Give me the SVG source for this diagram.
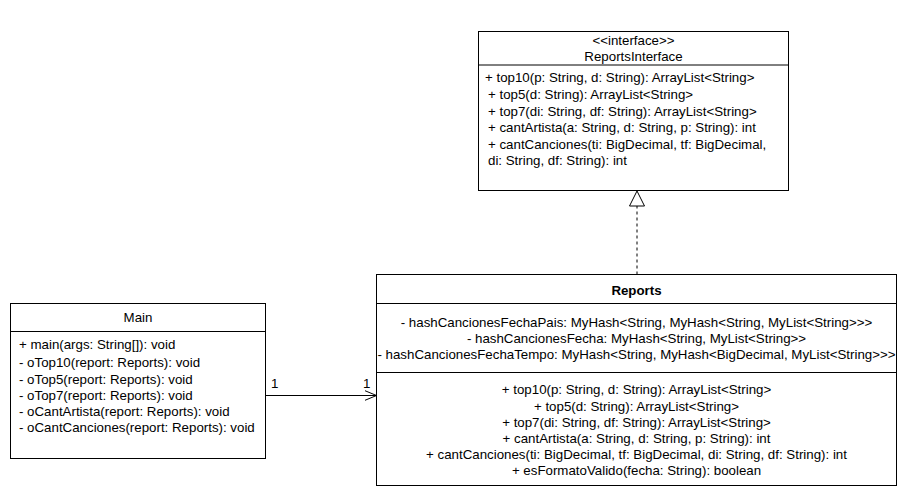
<svg xmlns="http://www.w3.org/2000/svg" width="907" height="497" viewBox="0 0 907 497">
  <defs>
    <style>
      .box { fill: #ffffff; stroke: #000000; stroke-width: 1; }
      .sep { stroke: #000000; stroke-width: 1; fill: none; }
      text { font-family: "Liberation Sans", Arial, Helvetica, sans-serif; font-size: 13.3px; fill: #000000; }
      .c { text-anchor: middle; }
      .b { font-weight: bold; }
      .edge { stroke: #000000; stroke-width: 1; fill: none; }
      .dash { stroke-dasharray: 3 3; }
    </style>
    <marker id="open" viewBox="0 0 12 12" refX="12" refY="6" markerWidth="12" markerHeight="12" markerUnits="userSpaceOnUse" orient="auto">
      <path d="M0,1 L12,6 L0,11" fill="none" stroke="#000000" stroke-width="1"/>
    </marker>
    <marker id="realize" viewBox="0 0 16 18" refX="15.5" refY="9" markerWidth="16" markerHeight="18" markerUnits="userSpaceOnUse" orient="auto">
      <path d="M0.5,1.5 L15.5,9 L0.5,16.5 Z" fill="#ffffff" stroke="#000000" stroke-width="1"/>
    </marker>
  </defs>

  <!-- connectors -->
  <g id="connectors">
    <path class="edge dash" d="M637,274.5 L637,191" marker-end="url(#realize)"/>
    <path class="edge" d="M266,395.5 L376.5,395.5" marker-end="url(#open)"/>
    <text x="271" y="388">1</text>
    <text x="363" y="388">1</text>
  </g>

  <!-- interface -->
  <g id="reports-interface">
    <rect class="box" x="478.5" y="31.5" width="310" height="159"/>
    <line class="sep" x1="478.5" y1="65" x2="788.5" y2="65"/>
    <text class="c" x="633.5" y="45">&lt;&lt;interface&gt;&gt;</text>
    <text class="c" x="633.5" y="61">ReportsInterface</text>
    <text x="485" y="82">+ top10(p: String, d: String): ArrayList&lt;String&gt;</text>
    <text x="488" y="99">+ top5(d: String): ArrayList&lt;String&gt;</text>
    <text x="488" y="116">+ top7(di: String, df: String): ArrayList&lt;String&gt;</text>
    <text x="488" y="132">+ cantArtista(a: String, d: String, p: String): int</text>
    <text x="488" y="149">+ cantCanciones(ti: BigDecimal, tf: BigDecimal,</text>
    <text x="488" y="165">di: String, df: String): int</text>
  </g>

  <!-- Reports class -->
  <g id="reports">
    <rect class="box" x="376.5" y="274.5" width="520" height="211"/>
    <line class="sep" x1="376.5" y1="303.5" x2="896.5" y2="303.5"/>
    <line class="sep" x1="376.5" y1="372.5" x2="896.5" y2="372.5"/>
    <text class="c b" x="636.5" y="295">Reports</text>
    <text class="c" x="636.5" y="327">- hashCancionesFechaPais: MyHash&lt;String, MyHash&lt;String, MyList&lt;String&gt;&gt;&gt;</text>
    <text class="c" x="636.5" y="343">- hashCancionesFecha: MyHash&lt;String, MyList&lt;String&gt;&gt;</text>
    <text class="c" x="636.5" y="359">- hashCancionesFechaTempo: MyHash&lt;String, MyHash&lt;BigDecimal, MyList&lt;String&gt;&gt;&gt;</text>
    <text class="c" x="636.5" y="394">+ top10(p: String, d: String): ArrayList&lt;String&gt;</text>
    <text class="c" x="636.5" y="411">+ top5(d: String): ArrayList&lt;String&gt;</text>
    <text class="c" x="636.5" y="427">+ top7(di: String, df: String): ArrayList&lt;String&gt;</text>
    <text class="c" x="636.5" y="443">+ cantArtista(a: String, d: String, p: String): int</text>
    <text class="c" x="636.5" y="459">+ cantCanciones(ti: BigDecimal, tf: BigDecimal, di: String, df: String): int</text>
    <text class="c" x="636.5" y="475">+ esFormatoValido(fecha: String): boolean</text>
  </g>

  <!-- Main class -->
  <g id="main">
    <rect class="box" x="10.5" y="303.5" width="255" height="155"/>
    <line class="sep" x1="10.5" y1="331.5" x2="265.5" y2="331.5"/>
    <text class="c" x="138" y="322">Main</text>
    <text x="19" y="349">+ main(args: String[]): void</text>
    <text x="19" y="367">- oTop10(report: Reports): void</text>
    <text x="19" y="384">- oTop5(report: Reports): void</text>
    <text x="19" y="400">- oTop7(report: Reports): void</text>
    <text x="19" y="416">- oCantArtista(report: Reports): void</text>
    <text x="19" y="432">- oCantCanciones(report: Reports): void</text>
  </g>
</svg>
